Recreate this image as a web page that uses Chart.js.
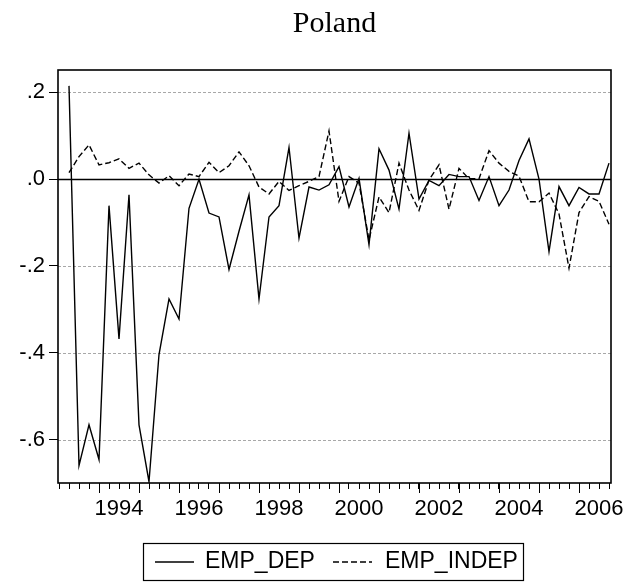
<!DOCTYPE html>
<html>
<head>
<meta charset="utf-8">
<title>Poland</title>
<script src="https://cdn.jsdelivr.net/npm/chart.js@4.4.1/dist/chart.umd.min.js"></script>
<style>
    html, body { margin: 0; padding: 0; background: #fff; }
    #wrap { width: 634px; height: 583px; }
</style>
</head>
<body>
<div id="wrap"><canvas id="chart" width="634" height="583"></canvas></div>
<script>
// quarterly observations, 1993Q2 - 2006Q4
const quarters = [
    "1993Q2", "1993Q3", "1993Q4",
    "1994Q1", "1994Q2", "1994Q3", "1994Q4",
    "1995Q1", "1995Q2", "1995Q3", "1995Q4",
    "1996Q1", "1996Q2", "1996Q3", "1996Q4",
    "1997Q1", "1997Q2", "1997Q3", "1997Q4",
    "1998Q1", "1998Q2", "1998Q3", "1998Q4",
    "1999Q1", "1999Q2", "1999Q3", "1999Q4",
    "2000Q1", "2000Q2", "2000Q3", "2000Q4",
    "2001Q1", "2001Q2", "2001Q3", "2001Q4",
    "2002Q1", "2002Q2", "2002Q3", "2002Q4",
    "2003Q1", "2003Q2", "2003Q3", "2003Q4",
    "2004Q1", "2004Q2", "2004Q3", "2004Q4",
    "2005Q1", "2005Q2", "2005Q3", "2005Q4",
    "2006Q1", "2006Q2", "2006Q3", "2006Q4"
];

const empDep = [
    0.215, -0.660, -0.566,
    -0.646, -0.061, -0.368, -0.036,
    -0.566, -0.697, -0.404, -0.276,
    -0.322, -0.067, 0.000, -0.078,
    -0.087, -0.208, -0.120, -0.036,
    -0.276, -0.087, -0.061, 0.073,
    -0.136, -0.018, -0.025, -0.013,
    0.029, -0.064, 0.002, -0.151,
    0.070, 0.021, -0.069, 0.106,
    -0.046, -0.003, -0.015, 0.011,
    0.006, 0.006, -0.049, 0.006,
    -0.061, -0.025, 0.043, 0.093,
    0.000, -0.167, -0.017, -0.061,
    -0.019, -0.034, -0.034, 0.037
];

const empIndep = [
    0.015, 0.052, 0.079,
    0.033, 0.038, 0.047, 0.025,
    0.037, 0.010, -0.009, 0.008,
    -0.015, 0.012, 0.006, 0.039,
    0.015, 0.031, 0.063, 0.031,
    -0.018, -0.034, -0.005, -0.026,
    -0.015, -0.005, 0.006, 0.111,
    -0.051, 0.006, -0.009, -0.140,
    -0.041, -0.077, 0.037, -0.025,
    -0.072, -0.002, 0.033, -0.069,
    0.025, 0.001, 0.001, 0.066,
    0.037, 0.018, 0.007, -0.052,
    -0.052, -0.032, -0.080, -0.205,
    -0.077, -0.040, -0.051, -0.104
];

const yTicks = [0.2, 0, -0.2, -0.4, -0.6];

const sansFont = "'Liberation Sans', Arial, Helvetica, sans-serif";
const serifFont = "'Liberation Serif', 'Times New Roman', serif";

function yLabel(v) {
    if (v === 0) return ".0";
    return (v < 0 ? "-" : "") + Math.abs(v).toFixed(1).replace(/^0/, "");
}

// year label sits in the middle of each even year
function xLabel(v) {
    const q = quarters[v];
    if (!q || !q.endsWith("Q3")) return "";
    const year = parseInt(q.slice(0, 4));
    return year % 2 === 0 ? String(year) : "";
}

const evFrame = {
    id: "evFrame",
    beforeDatasetsDraw(chart) {
        const { ctx, chartArea, scales } = chart;
        ctx.save();
        yTicks.forEach(v => {
            const y = Math.round(scales.y.getPixelForValue(v)) + 0.5;
            ctx.beginPath();
            if (v === 0) {
                ctx.setLineDash([]);
                ctx.strokeStyle = "#000";
                ctx.lineWidth = 1.3;
            } else {
                ctx.setLineDash([3, 2]);
                ctx.strokeStyle = "#a8a8a8";
                ctx.lineWidth = 1;
            }
            ctx.moveTo(chartArea.left, y);
            ctx.lineTo(chartArea.right, y);
            ctx.stroke();
        });
        ctx.restore();
    },
    afterDatasetsDraw(chart) {
        const { ctx, chartArea, scales } = chart;
        ctx.save();
        ctx.setLineDash([]);
        ctx.strokeStyle = "#000";
        ctx.lineWidth = 1.6;
        ctx.strokeRect(chartArea.left, chartArea.top, chartArea.right - chartArea.left, chartArea.bottom - chartArea.top);

        // longer ticks at the start of each year
        ctx.lineWidth = 1;
        quarters.forEach((q, i) => {
            if (!q.endsWith("Q1")) return;
            const x = Math.round(scales.x.getPixelForValue(i)) + 0.5;
            ctx.beginPath();
            ctx.moveTo(x, chartArea.bottom);
            ctx.lineTo(x, chartArea.bottom + 10);
            ctx.stroke();
        });

        // boxed legend under the axis
        const box = { left: 143, top: 543, width: 380, height: 37 };
        ctx.lineWidth = 1.2;
        ctx.strokeRect(box.left + 0.5, box.top + 0.5, box.width, box.height);
        const midY = box.top + 19;
        const items = [
            { sx: 155, tx: 205 },
            { sx: 333, tx: 385 }
        ];
        ctx.font = "23px " + sansFont;
        ctx.fillStyle = "#000";
        ctx.textBaseline = "middle";
        chart.data.datasets.forEach((ds, i) => {
            const it = items[i];
            ctx.beginPath();
            ctx.setLineDash(ds.borderDash || []);
            ctx.lineWidth = ds.borderWidth;
            ctx.moveTo(it.sx, midY);
            ctx.lineTo(it.sx + 39, midY);
            ctx.stroke();
            ctx.setLineDash([]);
            ctx.fillText(ds.label, it.tx, midY);
        });
        ctx.restore();
    }
};

const ctx = document.getElementById("chart").getContext("2d");

new Chart(ctx, {
    type: "line",
    data: {
        datasets: [
            {
                label: "EMP_DEP",
                data: empDep.map((v, i) => ({ x: i, y: v })),
                borderColor: "#000",
                borderWidth: 1.4,
                pointRadius: 0,
                tension: 0,
                fill: false
            },
            {
                label: "EMP_INDEP",
                data: empIndep.map((v, i) => ({ x: i, y: v })),
                borderColor: "#000",
                borderWidth: 1.4,
                borderDash: [6, 3],
                pointRadius: 0,
                tension: 0,
                fill: false
            }
        ]
    },
    options: {
        responsive: false,
        animation: false,
        devicePixelRatio: 1,
        layout: { padding: { left: 0, right: 23, top: 0, bottom: 0 } },
        plugins: {
            legend: { display: false },
            tooltip: { enabled: false },
            title: {
                display: true,
                text: "Poland",
                fullSize: false,
                color: "#000",
                font: { family: serifFont, size: 30, weight: "normal" },
                padding: { top: 6, bottom: 28 }
            }
        },
        scales: {
            x: {
                type: "linear",
                min: -1.1,
                max: 54.2,
                afterBuildTicks: scale => {
                    const t = [];
                    for (let i = -1; i < quarters.length; i++) t.push({ value: i });
                    scale.ticks = t;
                },
                afterFit: scale => { scale.height = 100; },
                grid: { drawOnChartArea: false, drawTicks: true, tickLength: 6, color: "#000", lineWidth: 1 },
                border: { display: false },
                ticks: {
                    autoSkip: false,
                    maxRotation: 0,
                    minRotation: 0,
                    padding: 7,
                    color: "#000",
                    font: { family: sansFont, size: 22 },
                    callback: v => xLabel(v)
                }
            },
            y: {
                min: -0.70,
                max: 0.2516,
                afterBuildTicks: scale => { scale.ticks = yTicks.map(v => ({ value: v })); },
                afterFit: scale => { scale.width = 58; },
                grid: { drawOnChartArea: false, drawTicks: true, tickLength: 9, color: "#000", lineWidth: 1 },
                border: { display: false },
                ticks: {
                    padding: 4,
                    color: "#000",
                    font: { family: sansFont, size: 22 },
                    callback: v => yLabel(v)
                }
            }
        }
    },
    plugins: [evFrame]
});
</script>
</body>
</html>
